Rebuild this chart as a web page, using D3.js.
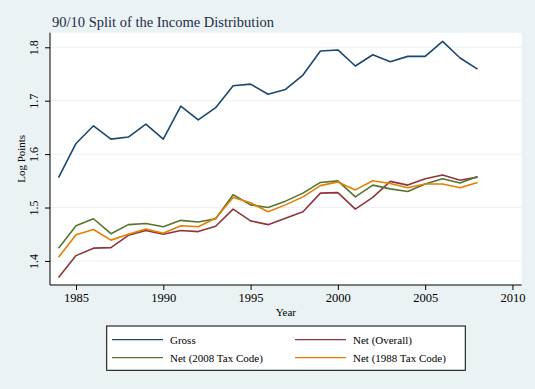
<!DOCTYPE html>
<html>
<head>
<meta charset="utf-8">
<script src="https://cdn.jsdelivr.net/npm/d3@7"></script>
<style>
  body { margin: 0; background: #eaf2f3; }
  svg { display: block; }
  svg text { font-family: "Liberation Serif", "DejaVu Serif", serif; }
</style>
</head>
<body>
<svg id="chart"></svg>
<script>
var years = d3.range(1984, 2009);

var gross = [1.556, 1.620, 1.653, 1.628, 1.632, 1.656, 1.628, 1.690, 1.664, 1.687,
             1.728, 1.731, 1.712, 1.721, 1.748, 1.793, 1.795, 1.765, 1.786, 1.773,
             1.783, 1.783, 1.811, 1.780, 1.759];
var netOverall = [1.369, 1.410, 1.424, 1.425, 1.448, 1.457, 1.450, 1.457, 1.455, 1.465,
                  1.497, 1.475, 1.468, 1.480, 1.492, 1.527, 1.528, 1.497, 1.519, 1.549,
                  1.542, 1.554, 1.561, 1.551, 1.557];
var net2008 = [1.424, 1.466, 1.479, 1.451, 1.468, 1.470, 1.464, 1.476, 1.473, 1.479,
               1.524, 1.505, 1.500, 1.512, 1.527, 1.547, 1.550, 1.520, 1.542, 1.535,
               1.530, 1.544, 1.554, 1.546, 1.558];
var net1988 = [1.407, 1.449, 1.459, 1.439, 1.450, 1.460, 1.452, 1.466, 1.464, 1.480,
               1.519, 1.509, 1.492, 1.505, 1.520, 1.541, 1.548, 1.533, 1.550, 1.545,
               1.537, 1.544, 1.544, 1.537, 1.547];

var xTicks = [1985, 1990, 1995, 2000, 2005, 2010];
var yTicks = [1.4, 1.5, 1.6, 1.7, 1.8];

var seriesNames = ["Gross", "Net (Overall)", "Net (2008 Tax Code)", "Net (1988 Tax Code)"];
var seriesValues = [gross, netOverall, net2008, net1988];
var seriesColors = ["#1a476f", "#90353b", "#55752f", "#e37e00"];

var width = 535, height = 389;
var svg = d3.select("#chart").attr("width", width).attr("height", height);

svg.append("rect").attr("width", width).attr("height", height).attr("fill", "#eaf2f3");

var pLeft = 50, pRight = 521.7, pTop = 32.7, pBottom = 285;

var x = d3.scaleLinear().domain([1983.51, 2010.53]).range([pLeft, pRight]);
var y = d3.scaleLinear().domain([1.355, 1.8273]).range([pBottom, pTop]);

// plot region
svg.append("rect")
    .attr("x", pLeft).attr("y", pTop)
    .attr("width", pRight - pLeft).attr("height", pBottom - pTop)
    .attr("fill", "#ffffff");

// gridlines
svg.append("g").selectAll("line")
    .data(yTicks)
    .enter().append("line")
    .attr("x1", pLeft).attr("x2", pRight)
    .attr("y1", function(d) { return y(d); })
    .attr("y2", function(d) { return y(d); })
    .attr("stroke", "#eaf2f3").attr("stroke-width", 1);

// lines
var line = d3.line()
    .x(function(d, i) { return x(years[i]); })
    .y(function(d) { return y(d); });

svg.append("g").selectAll("path")
    .data(seriesValues)
    .enter().append("path")
    .attr("d", line)
    .attr("fill", "none")
    .attr("stroke", function(d, i) { return seriesColors[i]; })
    .attr("stroke-width", 1.6)
    .attr("stroke-linejoin", "round");

// axes
var xAxis = svg.append("g")
    .attr("transform", "translate(0," + pBottom + ")")
    .call(d3.axisBottom(x).tickValues(xTicks).tickFormat(d3.format("d")).tickSize(5).tickPadding(3));
xAxis.attr("font-family", null);
xAxis.select(".domain").attr("stroke", "#000").attr("d", "M" + pLeft + ",0H" + pRight);
xAxis.selectAll("text").attr("font-size", "12.5px").attr("fill", "#000");

var yAxis = svg.append("g")
    .attr("transform", "translate(" + pLeft + ",0)")
    .call(d3.axisLeft(y).tickValues(yTicks).tickFormat(d3.format(".1f")).tickSize(5).tickPadding(2));
yAxis.attr("font-family", null);
yAxis.select(".domain").attr("stroke", "#000").attr("d", "M0," + pTop + "V" + pBottom);
yAxis.selectAll("text")
    .attr("font-size", "12px").attr("fill", "#000")
    .attr("x", null).attr("dy", null)
    .attr("text-anchor", "middle")
    .attr("transform", "translate(-12,0) rotate(-90)");

// titles
svg.append("text")
    .attr("x", 52).attr("y", 26.5)
    .attr("font-size", "14.5px").attr("fill", "#1e2c48")
    .text("90/10 Split of the Income Distribution");

svg.append("text")
    .attr("x", (pLeft + pRight) / 2).attr("y", 316)
    .attr("text-anchor", "middle").attr("font-size", "11px")
    .text("Year");

svg.append("text")
    .attr("transform", "translate(25," + ((pTop + pBottom) / 2) + ") rotate(-90)")
    .attr("text-anchor", "middle").attr("font-size", "11px")
    .text("Log Points");

// legend
var legend = svg.append("g");
legend.append("rect")
    .attr("x", 106.7).attr("y", 326)
    .attr("width", 358.6).attr("height", 44.3)
    .attr("fill", "#fff").attr("stroke", "#000").attr("stroke-width", 1);

var items = legend.selectAll("g.item")
    .data(seriesNames)
    .enter().append("g")
    .attr("class", "item")
    .attr("transform", function(d, i) {
        return "translate(" + (i % 2 === 0 ? 112 : 295) + "," + (i < 2 ? 339.7 : 357.7) + ")";
    });
items.append("line")
    .attr("x1", 0).attr("x2", 51)
    .attr("stroke", function(d, i) { return seriesColors[i]; })
    .attr("stroke-width", 1.2);
items.append("text")
    .attr("x", 58).attr("dy", "0.35em")
    .attr("font-size", "11px")
    .text(function(d) { return d; });
</script>
</body>
</html>
